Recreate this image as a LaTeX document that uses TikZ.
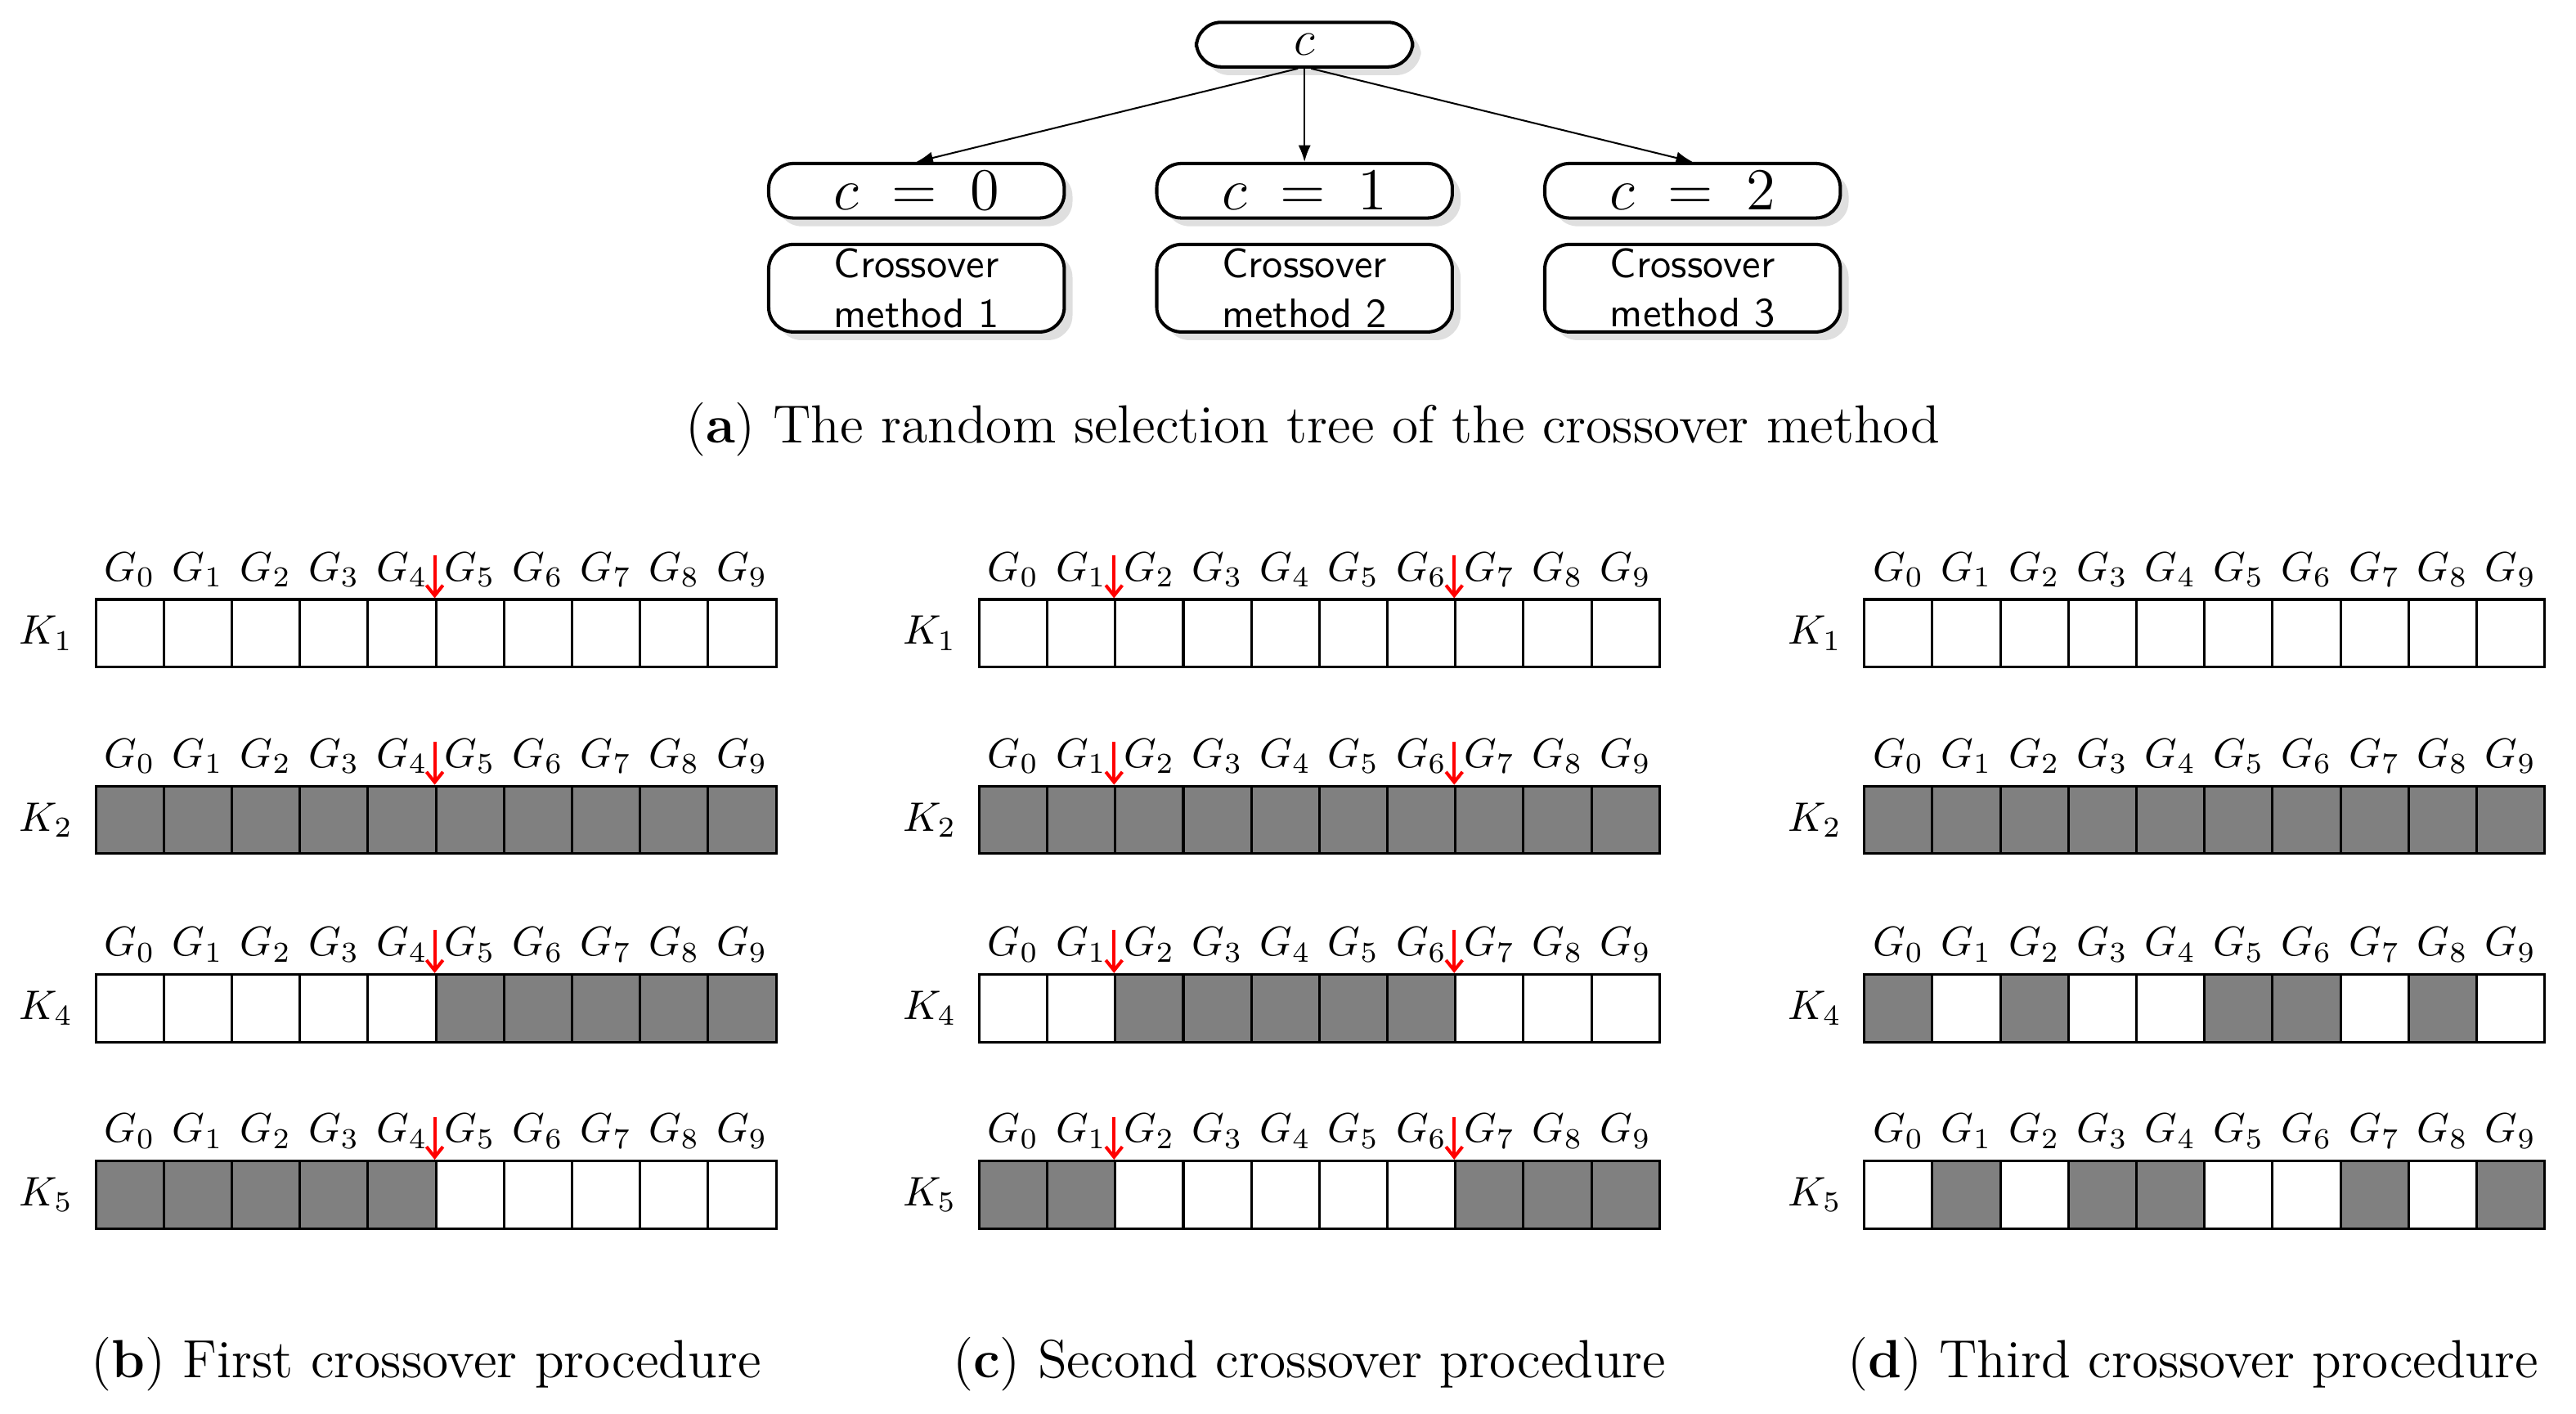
\documentclass[tikz,border=0pt]{standalone}
\usepackage{tikz}
\usetikzlibrary{arrows.meta,shadows,calc}
\newcommand\chromrow[5]{% name, left x, top y, label, fill list
  \node[klabel] (#1-k) at (#2-30,#3+20.5) {$#4$};
  \foreach \f [count=\i from 0] in {#5}
  {
    \node[cell,fill=black!\f!white] (#1-\i) at (#2+\i*41.2+20.6,#3+20.5) {};
    \node[glabel] (#1-g\i) at (#2+\i*41.2+20.6,#3-18) {$G_{\i}$};
  }
}
\begin{document}
\begin{tikzpicture}
    [x=0.4pt,y=-0.4pt,
    box/.style={draw,thick,rounded corners=6pt,fill=white,drop shadow={shadow xshift=2pt,shadow yshift=-2pt,fill=black!25},inner sep=0pt,font=\sffamily},
    cell/.style={draw,semithick,minimum width=16.48pt,minimum height=16.4pt,inner sep=0pt},
    glabel/.style={inner sep=0pt,font=\normalsize},
    klabel/.style={inner sep=0pt},
    cut/.style={red,thick,-{Straight Barb[length=2.5pt,width=4pt]}},
    tree/.style={-{Latex[length=4pt,width=3pt]}},
    capt/.style={font=\fontsize{13}{15}\selectfont}]
    \useasboundingbox (0,0) rectangle (1560,856);

    % (a) selection tree
    \node[box,minimum width=52.4pt,minimum height=10.8pt,font=\large] (root) at (790,27) {$c$};
    \foreach \v/\x in {0/555,1/790,2/1025}
    {
        \node[box,minimum width=71.6pt,minimum height=13.2pt,font=\Large] (c\v) at (\x,115.5) {$c \;=\; \v$};
        \pgfmathtruncatemacro\m{\v+1}
        \node[box,minimum width=71.6pt,minimum height=21.2pt,align=center] (m\v) at (\x,174.5) {Crossover\\method \m};
    }
    \draw[tree] (root.south west) ++(25pt,0) -- (c0.north);
    \draw[tree] (root) -- (c1.north);
    \draw[tree] (root.south east) ++(-25pt,0) -- (c2.north);
    \node[capt] (capa) at (795,260) {(\textbf{a}) The random selection tree of the crossover method};

    % (b) first crossover
    \chromrow{b1}{58}{363}{K_1}{0,0,0,0,0,0,0,0,0,0}
    \chromrow{b2}{58}{476}{K_2}{50,50,50,50,50,50,50,50,50,50}
    \chromrow{b4}{58}{590}{K_4}{0,0,0,0,0,50,50,50,50,50}
    \chromrow{b5}{58}{703}{K_5}{50,50,50,50,50,0,0,0,0,0}
    \foreach \r in {1,2,4,5}
        \draw[cut] ($(b\r-5.north west)+(0,-26)$) -- (b\r-5.north west);
    \node[capt] (capb) at (258,826) {(\textbf{b}) First crossover procedure};

    % (c) second crossover
    \chromrow{c1}{593}{363}{K_1}{0,0,0,0,0,0,0,0,0,0}
    \chromrow{c2}{593}{476}{K_2}{50,50,50,50,50,50,50,50,50,50}
    \chromrow{c4}{593}{590}{K_4}{0,0,50,50,50,50,50,0,0,0}
    \chromrow{c5}{593}{703}{K_5}{50,50,0,0,0,0,0,50,50,50}
    \foreach \r in {1,2,4,5}
        \foreach \j in {2,7}
            \draw[cut] ($(c\r-\j.north west)+(0,-26)$) -- (c\r-\j.north west);
    \node[capt] (capc) at (793,826) {(\textbf{c}) Second crossover procedure};

    % (d) third crossover
    \chromrow{d1}{1129}{363}{K_1}{0,0,0,0,0,0,0,0,0,0}
    \chromrow{d2}{1129}{476}{K_2}{50,50,50,50,50,50,50,50,50,50}
    \chromrow{d4}{1129}{590}{K_4}{50,0,50,0,0,50,50,0,50,0}
    \chromrow{d5}{1129}{703}{K_5}{0,50,0,50,50,0,0,50,0,50}
    \node[capt] (capd) at (1328,826) {(\textbf{d}) Third crossover procedure};
\end{tikzpicture}
\end{document}
